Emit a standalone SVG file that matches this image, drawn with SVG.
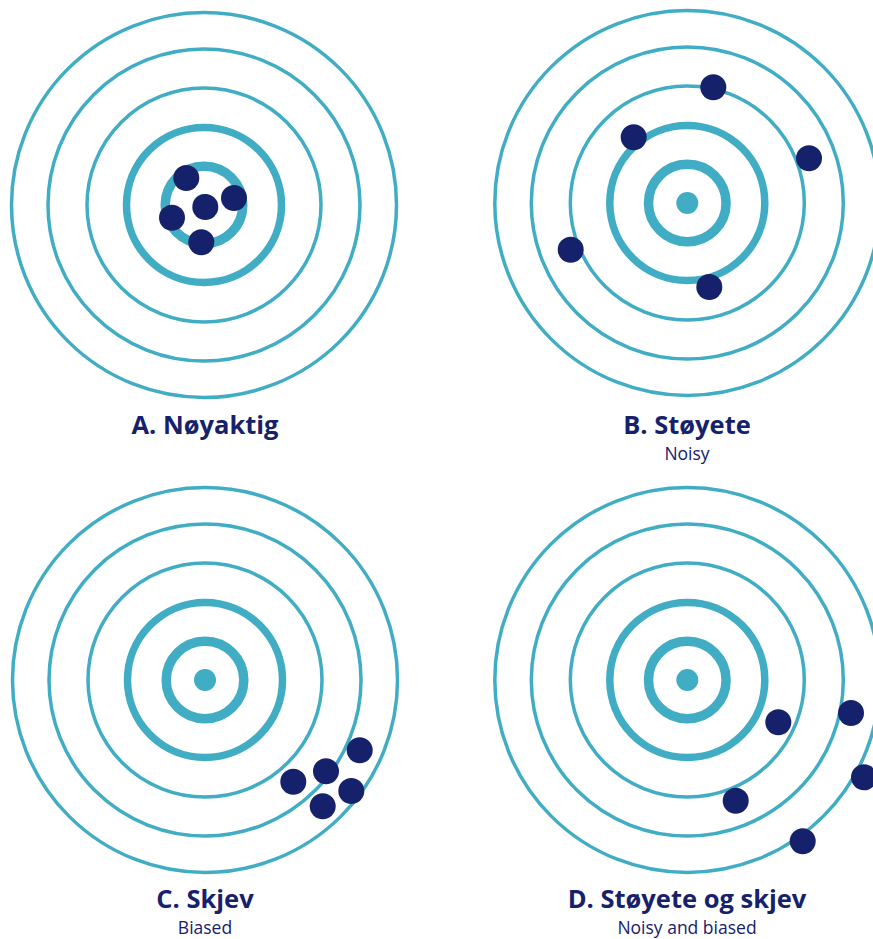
<svg xmlns="http://www.w3.org/2000/svg" width="873" height="939" viewBox="0 0 873 939">
<style>
.thin{fill:none;stroke:#41ADC4;stroke-width:3.5}
.r4{fill:none;stroke:#41ADC4;stroke-width:7.5}
.r5{fill:none;stroke:#41ADC4;stroke-width:9.5}
.bull{fill:#41ADC4}
.hit{fill:#16216C}
.title{font-family:"Open Sans","Liberation Sans",sans-serif;font-weight:700;font-size:25.5px;fill:#16216C;text-anchor:middle}
.sub{font-family:"Open Sans","Liberation Sans",sans-serif;font-size:17.5px;fill:#16216C;text-anchor:middle}
</style>
<defs>
<g id="target">
<circle class="thin" r="192.5"/>
<circle class="thin" r="156"/>
<circle class="thin" r="117"/>
<circle class="r4" r="77.5"/>
<circle class="r5" r="38.8"/>
<circle class="bull" r="11"/>
</g>
</defs>
<g id="panelA">
<use href="#target" x="204" y="205"/>
<circle class="hit" cx="186.3" cy="178" r="13"/>
<circle class="hit" cx="234" cy="198" r="13"/>
<circle class="hit" cx="205.3" cy="207" r="13"/>
<circle class="hit" cx="172" cy="217.7" r="13"/>
<circle class="hit" cx="201.3" cy="242.3" r="13"/>
<text class="title" x="205" y="434">A. Nøyaktig</text>
</g>
<g id="panelB">
<use href="#target" x="687.3" y="203"/>
<circle class="hit" cx="713.3" cy="87.3" r="13"/>
<circle class="hit" cx="633.7" cy="137.3" r="13"/>
<circle class="hit" cx="809" cy="158.3" r="13"/>
<circle class="hit" cx="570.7" cy="249.7" r="13"/>
<circle class="hit" cx="709.3" cy="287" r="13"/>
<text class="title" x="687" y="434">B. Støyete</text>
<text class="sub" x="687" y="460">Noisy</text>
</g>
<g id="panelC">
<use href="#target" x="205" y="680"/>
<circle class="hit" cx="359.7" cy="750.3" r="13"/>
<circle class="hit" cx="326" cy="771.3" r="13"/>
<circle class="hit" cx="293.3" cy="781.7" r="13"/>
<circle class="hit" cx="351.3" cy="791" r="13"/>
<circle class="hit" cx="322.7" cy="806.3" r="13"/>
<text class="title" x="205" y="908">C. Skjev</text>
<text class="sub" x="205" y="933.5">Biased</text>
</g>
<g id="panelD">
<use href="#target" x="687.3" y="680"/>
<circle class="hit" cx="778.3" cy="722.3" r="13"/>
<circle class="hit" cx="851" cy="713" r="13"/>
<circle class="hit" cx="864" cy="777.3" r="13"/>
<circle class="hit" cx="735.7" cy="800.7" r="13"/>
<circle class="hit" cx="802.7" cy="841.3" r="13"/>
<text class="title" x="687" y="908">D. Støyete og skjev</text>
<text class="sub" x="687" y="933.5">Noisy and biased</text>
</g>
</svg>
